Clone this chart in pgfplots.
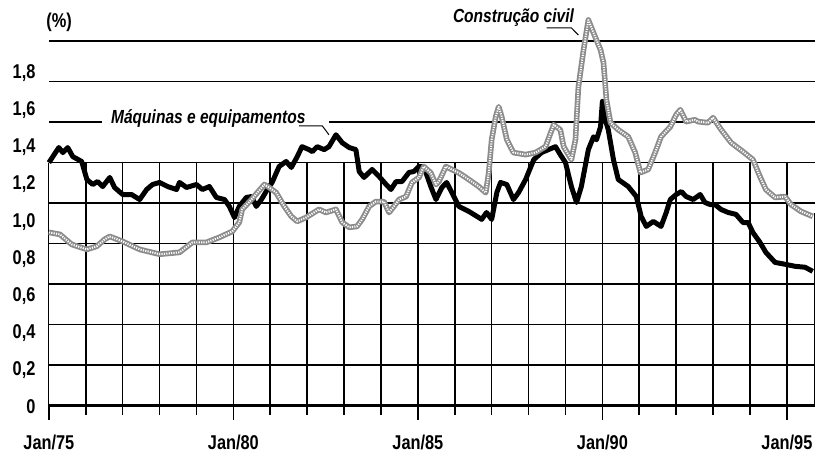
\documentclass[border=0pt]{standalone}
\usepackage{pgfplots}
\pgfplotsset{compat=1.18}
\usepackage{fontspec}
\setmainfont{Liberation Sans}[FakeStretch=0.82]
\begin{document}
\begin{tikzpicture}
\begin{axis}[
  scale only axis, width=384pt, height=195.3pt,
  xmin=1975, xmax=1995.757, ymin=0, ymax=2.1,
  clip=false,
  axis x line*=bottom, axis y line*=left,
  y axis line style={draw=none},
  x axis line style={line width=1.5pt},
  xtick={1975,1980,1985,1990,1995},
  xticklabels={Jan/75,Jan/80,Jan/85,Jan/90,Jan/95},
  minor xtick={1976,1977,1978,1979,1981,1982,1983,1984,1986,1987,1988,1989,1991,1992,1993,1994},
  xtick align=outside,
  major tick length=7pt, minor tick length=4.5pt,
  every tick/.style={line width=0.8pt, black},
  ytick={0,0.2,0.4,0.6,0.8,1.0,1.2,1.4,1.6,1.8},
  yticklabels={0,{0,2},{0,4},{0,6},{0,8},{1,0},{1,2},{1,4},{1,6},{1,8}},
  ytick align=inside,
  ytick style={draw=none},
  tick label style={font=\bfseries\fontsize{10}{12}\selectfont},
  xticklabel style={anchor=north, yshift=-4.4pt},
  yticklabel style={anchor=east, xshift=-3.2pt, yshift=-0.75pt},
]
% horizontal grid lines
\pgfplotsinvokeforeach{0.2183,0.4367,0.6550,0.8733,1.0917,1.3100,1.5283,1.7467,1.9650}{
  \draw[line width=0.8pt, black] (axis cs:1975,#1) -- (axis cs:1995.757,#1);
}
% vertical grid lines
\pgfplotsinvokeforeach{1976,1977,1978,1979,1980,1981,1982,1983,1984,1985,1986,1987,1988,1989,1990,1991,1992,1993,1994,1995}{
  \draw[line width=0.8pt, black] (axis cs:#1,0) -- (axis cs:#1,1.31);
}
\draw[line width=0.5pt, black] (axis cs:1975,0) -- (axis cs:1975,1.31);
\draw[line width=0.6pt, black] (axis cs:1995.757,0) -- (axis cs:1995.757,1.04);
% gap for label
\fill[white] (axis cs:1976.43,1.514) rectangle (axis cs:1982.59,1.542);

% Maquinas e equipamentos
\addplot[black, line width=2.5pt, line join=round] coordinates {
(1975.00,1.310)(1975.27,1.391)(1975.38,1.364)(1975.51,1.391)(1975.65,1.342)(1975.89,1.316)(1976.03,1.219)(1976.19,1.192)(1976.32,1.208)(1976.46,1.181)(1976.65,1.230)(1976.78,1.176)(1977.00,1.138)(1977.24,1.138)(1977.46,1.111)(1977.65,1.165)(1977.81,1.192)(1978.00,1.203)(1978.22,1.181)(1978.46,1.165)(1978.54,1.203)(1978.73,1.176)(1979.00,1.192)(1979.16,1.165)(1979.35,1.181)(1979.54,1.122)(1979.76,1.111)(1979.89,1.074)(1980.03,1.014)(1980.16,1.074)(1980.35,1.122)(1980.49,1.127)(1980.62,1.074)(1980.76,1.111)(1980.92,1.165)(1981.05,1.203)(1981.24,1.289)(1981.43,1.316)(1981.57,1.284)(1981.73,1.342)(1981.86,1.396)(1982.05,1.380)(1982.14,1.369)(1982.27,1.396)(1982.46,1.380)(1982.59,1.396)(1982.78,1.460)(1982.95,1.417)(1983.14,1.391)(1983.32,1.380)(1983.41,1.262)(1983.54,1.230)(1983.76,1.273)(1983.95,1.235)(1984.14,1.192)(1984.27,1.165)(1984.41,1.208)(1984.57,1.208)(1984.76,1.257)(1984.89,1.262)(1985.03,1.289)(1985.16,1.289)(1985.35,1.181)(1985.49,1.111)(1985.65,1.176)(1985.78,1.203)(1985.92,1.149)(1986.11,1.074)(1986.38,1.047)(1986.73,1.004)(1986.86,1.041)(1987.00,1.004)(1987.14,1.149)(1987.24,1.203)(1987.41,1.192)(1987.59,1.111)(1987.73,1.149)(1987.92,1.219)(1988.14,1.326)(1988.35,1.364)(1988.54,1.380)(1988.73,1.396)(1988.86,1.353)(1989.00,1.310)(1989.16,1.181)(1989.30,1.095)(1989.43,1.181)(1989.62,1.380)(1989.76,1.449)(1989.84,1.433)(1989.95,1.503)(1990.00,1.640)(1990.05,1.560)(1990.16,1.487)(1990.30,1.326)(1990.43,1.219)(1990.70,1.181)(1990.92,1.127)(1991.05,1.020)(1991.19,0.966)(1991.38,0.993)(1991.59,0.966)(1991.73,1.041)(1991.84,1.111)(1992.00,1.138)(1992.14,1.154)(1992.27,1.127)(1992.46,1.111)(1992.65,1.138)(1992.78,1.095)(1992.92,1.084)(1993.05,1.084)(1993.22,1.057)(1993.41,1.041)(1993.62,1.031)(1993.81,0.987)(1993.95,0.987)(1994.08,0.933)(1994.27,0.880)(1994.43,0.826)(1994.68,0.772)(1994.95,0.762)(1995.22,0.751)(1995.49,0.746)(1995.70,0.724)
};

% Construcao civil
\pgfplotstableread{
x y
1975.00 0.934
1975.30 0.923
1975.62 0.869
1976.03 0.842
1976.30 0.859
1976.51 0.896
1976.65 0.912
1977.00 0.885
1977.46 0.842
1978.00 0.816
1978.54 0.826
1978.89 0.880
1979.27 0.880
1979.62 0.907
1979.97 0.939
1980.16 0.988
1980.24 1.058
1980.49 1.111
1980.65 1.148
1980.84 1.192
1980.97 1.176
1981.16 1.148
1981.38 1.074
1981.57 1.020
1981.73 0.993
1981.97 1.014
1982.32 1.058
1982.51 1.041
1982.78 1.058
1982.95 0.988
1983.14 0.961
1983.35 0.966
1983.49 1.004
1983.68 1.074
1983.86 1.100
1984.08 1.100
1984.22 1.041
1984.35 1.074
1984.49 1.111
1984.68 1.127
1984.84 1.203
1985.03 1.230
1985.16 1.289
1985.35 1.255
1985.49 1.192
1985.57 1.208
1985.76 1.289
1985.92 1.273
1986.11 1.255
1986.38 1.219
1986.65 1.181
1986.84 1.148
1986.92 1.255
1987.00 1.434
1987.11 1.558
1987.19 1.611
1987.27 1.558
1987.41 1.434
1987.59 1.364
1987.92 1.353
1988.19 1.364
1988.46 1.396
1988.68 1.514
1988.86 1.487
1988.95 1.396
1989.16 1.326
1989.27 1.433
1989.35 1.718
1989.49 1.918
1989.62 2.079
1989.76 2.009
1989.95 1.918
1990.03 1.848
1990.11 1.648
1990.22 1.525
1990.43 1.487
1990.70 1.450
1990.89 1.364
1991.03 1.256
1991.24 1.273
1991.43 1.364
1991.59 1.450
1991.84 1.503
1992.00 1.568
1992.11 1.595
1992.27 1.531
1992.51 1.541
1992.59 1.531
1992.86 1.525
1993.00 1.552
1993.22 1.487
1993.49 1.417
1993.81 1.369
1994.08 1.326
1994.27 1.235
1994.43 1.165
1994.68 1.122
1994.95 1.127
1995.11 1.084
1995.38 1.047
1995.70 1.020
}\construcao
\addplot[black!45, line width=2.8pt, line join=round] table[x=x,y=y] {\construcao};
\addplot[white, line width=1.0pt, line join=round, dash pattern=on 0.6pt off 0.6pt] table[x=x,y=y] {\construcao};

% labels
\node[anchor=base, font=\bfseries\fontsize{10}{12}\selectfont] at (axis cs:1975.28,2.036) {(\%)};
\node[anchor=base, inner sep=0pt, font=\bfseries\itshape\fontsize{9.5}{11}\selectfont] at (axis cs:1979.32,1.520) {Máquinas e equipamentos};
\draw[line width=0.5pt] (axis cs:1981.78,1.508) -- (axis cs:1982.41,1.508) -- (axis cs:1982.59,1.460);
\node[anchor=base, inner sep=0pt, font=\bfseries\itshape\fontsize{9.5}{11}\selectfont] at (axis cs:1987.59,2.063) {Construção civil};
\draw[line width=0.5pt] (axis cs:1988.49,2.036) -- (axis cs:1989.16,2.036) -- (axis cs:1989.35,1.998);
\end{axis}
\path[use as bounding box] ([xshift=-24.5pt,yshift=-26.65pt]current axis.south west) rectangle ([xshift=1pt,yshift=8.05pt]current axis.north east);
\end{tikzpicture}
\end{document}
